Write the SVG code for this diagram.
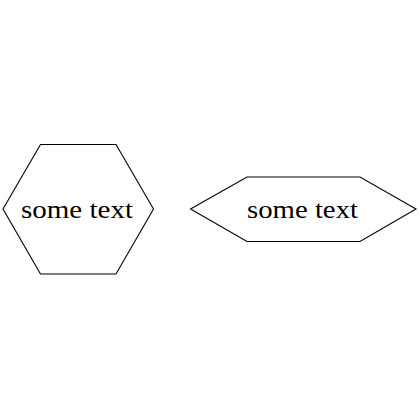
<svg xmlns="http://www.w3.org/2000/svg" width="420" height="420" viewBox="0 0 420 420">
<style>
.shape{fill:#fff;stroke:#000;stroke-width:1.1;stroke-linejoin:miter}
.lbl{font-family:"Liberation Serif","Times New Roman",serif;font-size:25px;fill:#000}
</style>
<rect width="420" height="420" fill="#fff"/>
<g id="node1">
<polygon class="shape" points="3,209 40.5,144.5 116,144.5 153.5,209 116,274 40.5,274"/>
<text class="lbl" x="21" y="217.5" textLength="112" lengthAdjust="spacingAndGlyphs">some text</text>
</g>
<g id="node2">
<polygon class="shape" points="190.5,209 247,177 360,177 416,209 360,241.5 247,241.5"/>
<text class="lbl" x="247" y="217.5" textLength="111" lengthAdjust="spacingAndGlyphs">some text</text>
</g>
<g id="connectors"></g>
</svg>
